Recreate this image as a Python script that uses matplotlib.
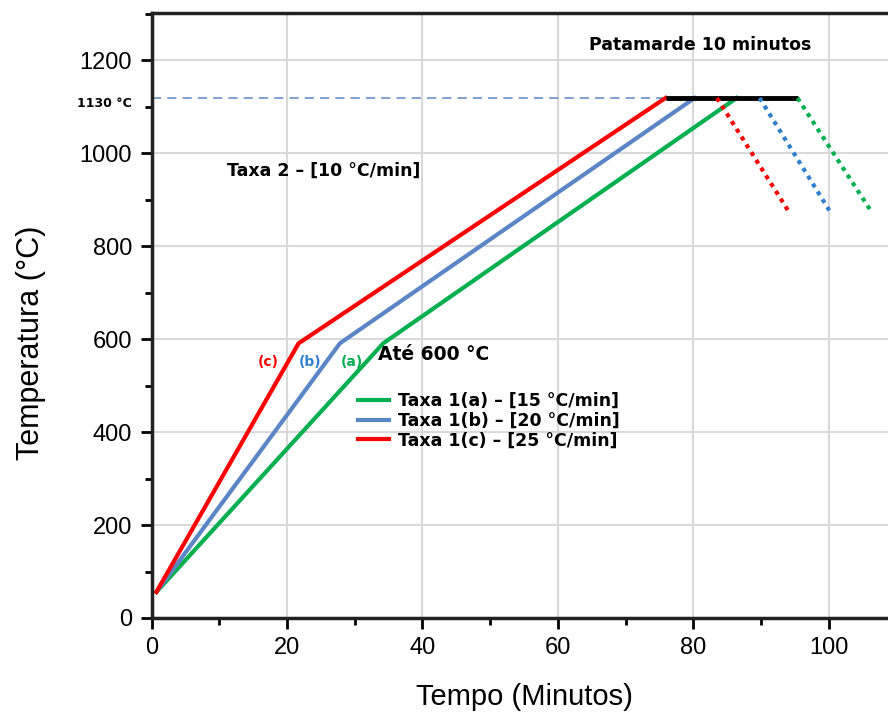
import matplotlib
matplotlib.use("Agg")
import matplotlib.pyplot as plt
from matplotlib.ticker import MultipleLocator
from matplotlib.lines import Line2D

# Heating curves (time in minutes, temperature in degC)
temp_heat = [56, 591, 1119]
time_a = [0.7, 34.2, 86.4]
time_b = [0.7, 27.8, 80.2]
time_c = [0.7, 21.7, 75.9]

# 10 minute hold
plateau_time = [75.9, 95.4]
plateau_temp = [1119, 1119]

# Cooling (dotted)
temp_cool = [1119, 877]
cool_a = [95.4, 106.2]
cool_b = [89.8, 100.1]
cool_c = [83.5, 94.0]

legend_labels = ["Taxa 1(a) \u2013 [15 \u00b0C/min]",
                 "Taxa 1(b) \u2013 [20 \u00b0C/min]",
                 "Taxa 1(c) \u2013 [25 \u00b0C/min]"]

green = "#00b050"
blue = "#5b86c6"
red = "#ff0000"
blue_dot = "#2f7fd0"

fig = plt.figure(figsize=(8.88, 7.16), dpi=100)
ax = fig.add_axes([0.1708, 0.1369, 110 * 6.77 / 888, 0.845])

# reference line at the hold temperature
ax.plot([0, plateau_time[0]], plateau_temp, color=blue, lw=1.1, ls=(0, (6, 4)))

ax.plot(time_a, temp_heat, color=green, lw=3)
ax.plot(time_b, temp_heat, color=blue, lw=3)
ax.plot(time_c, temp_heat, color=red, lw=3)

ax.plot(plateau_time, plateau_temp, color="black", lw=3.5, solid_capstyle="butt")

ax.plot(cool_c, temp_cool, color=red, lw=3, ls=(0, (1, 1.2)))
ax.plot(cool_b, temp_cool, color=blue_dot, lw=3, ls=(0, (1, 1.2)))
ax.plot(cool_a, temp_cool, color=green, lw=3, ls=(0, (1, 1.2)))

ax.set_xlim(0, 110)
ax.set_ylim(0, 1302)

ax.xaxis.set_major_locator(MultipleLocator(20))
ax.xaxis.set_minor_locator(MultipleLocator(10))
ax.yaxis.set_major_locator(MultipleLocator(200))
ax.yaxis.set_minor_locator(MultipleLocator(100))
ax.set_yticks([0, 200, 400, 600, 800, 1000, 1200])

ax.grid(True, which="major", color="#d9d9d9", lw=1.5)
ax.set_axisbelow(True)

for side in ["left", "bottom", "top"]:
    ax.spines[side].set_linewidth(2.5)
    ax.spines[side].set_color("#222222")
ax.spines["right"].set_visible(False)

ax.tick_params(which="major", direction="out", length=8, width=2, labelsize=17, pad=6)
ax.tick_params(which="minor", direction="out", length=5, width=2)
for lab in ax.get_xticklabels() + ax.get_yticklabels():
    lab.set_fontfamily("Liberation Sans")

ax.set_xlabel("Tempo (Minutos)", fontsize=21, family="Liberation Sans", labelpad=17)
ax.set_ylabel("Temperatura (\u00b0C)", fontsize=22, family="Liberation Sans")
ax.yaxis.set_label_coords(-0.142, 0.455)

# annotations
bold = dict(fontweight="bold", family="DejaVu Sans")
ax.text(-2.95, 1108, "1130 \u00b0C", ha="right", va="center", fontsize=9,
        clip_on=False, **bold)
ax.text(81, 1233, "Patamarde 10 minutos", ha="center", va="center", fontsize=12.5, **bold)
ax.text(25.4, 962, "Taxa 2 \u2013 [10 \u00b0C/min]", ha="center", va="center", fontsize=12.5, **bold)
ax.text(33.4, 568, "At\u00e9 600 \u00b0C", ha="left", va="center", fontsize=13.5, **bold)
ax.text(17.2, 550, "(c)", color=red, ha="center", va="center", fontsize=10, **bold)
ax.text(23.4, 550, "(b)", color=blue_dot, ha="center", va="center", fontsize=10, **bold)
ax.text(29.5, 550, "(a)", color=green, ha="center", va="center", fontsize=10, **bold)

handles = [Line2D([0], [0], color=green, lw=3),
           Line2D([0], [0], color=blue, lw=3),
           Line2D([0], [0], color=red, lw=3)]
ax.legend(handles, legend_labels, loc="upper left", bbox_to_anchor=(0.268, 0.385),
          frameon=False, prop=dict(weight="bold", family="DejaVu Sans", size=12.5),
          handlelength=1.8, handletextpad=0.5, labelspacing=0.1, borderaxespad=0)

fig.savefig("out.png", dpi=100)
